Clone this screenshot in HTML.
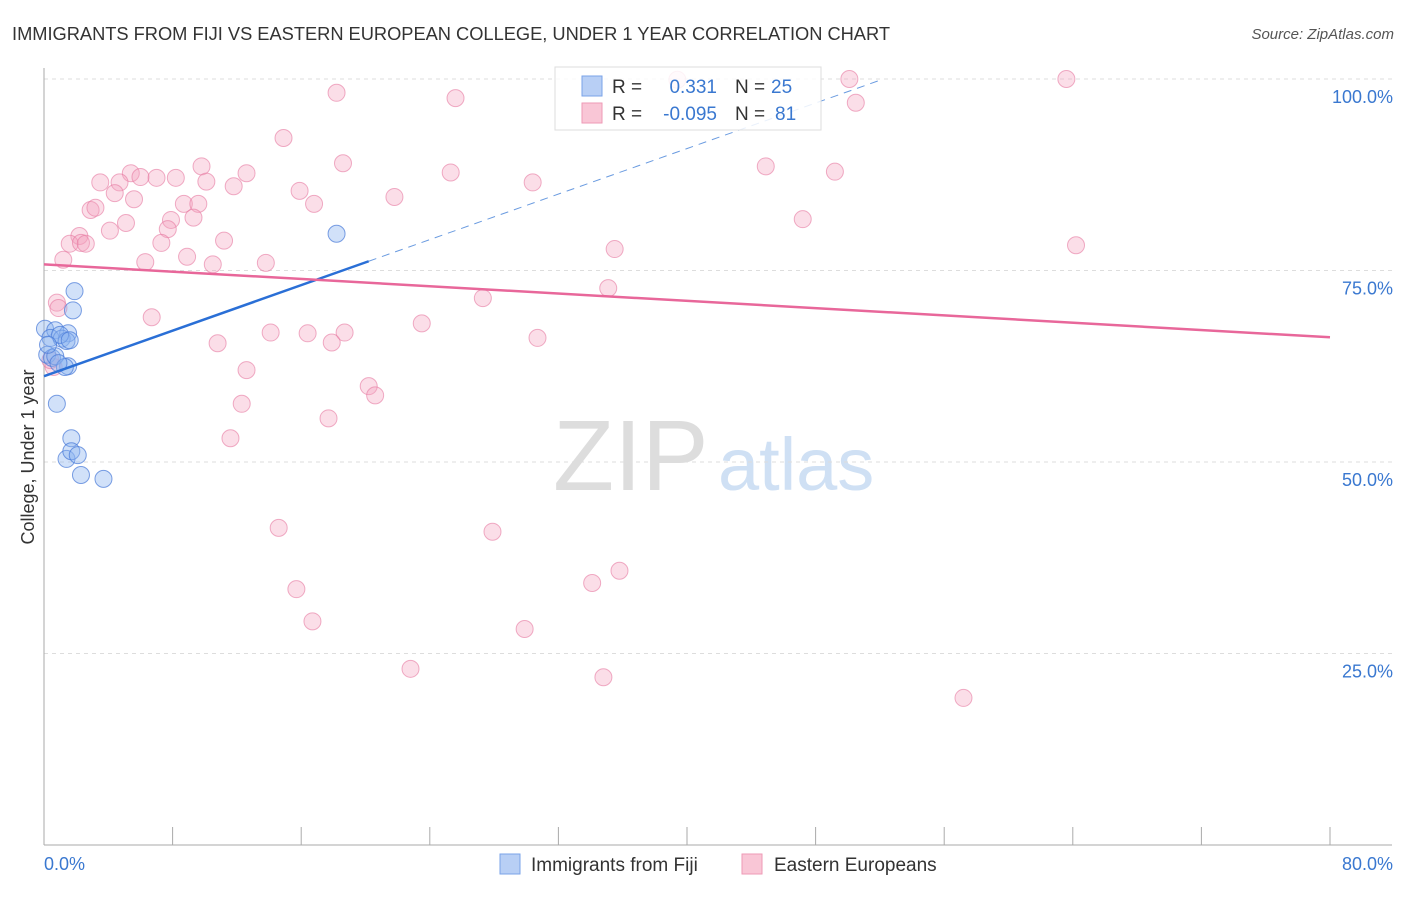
<!DOCTYPE html>
<html><head><meta charset="utf-8"><style>
body{margin:0;background:#fff;font-family:"Liberation Sans",sans-serif}
svg text{font-family:"Liberation Sans",sans-serif}
</style></head><body>
<svg id="c" width="1406" height="892" xmlns="http://www.w3.org/2000/svg">
<text x="12" y="40" font-size="18.3" fill="#333" textLength="878">IMMIGRANTS FROM FIJI VS EASTERN EUROPEAN COLLEGE, UNDER 1 YEAR CORRELATION CHART</text>
<text x="1394" y="39" font-size="15" fill="#555" font-style="italic" text-anchor="end">Source: ZipAtlas.com</text>
<g><text x="553" y="490" font-size="100" fill="#ddd" font-family="Liberation Serif,serif">ZIP</text><text x="718" y="490" font-size="74" fill="#cfe0f4">atlas</text></g>
<g id="grid"></g><g id="axes"></g><g id="marks"></g>
<text transform="translate(34,457) rotate(-90)" font-size="18" fill="#333" text-anchor="middle">College, Under 1 year</text>
<g>
<rect x="555" y="67" width="266" height="63" fill="#fff" fill-opacity="0.85" stroke="#ddd"/>
<rect x="582" y="76" width="20" height="20" fill="#b8cff5" stroke="#7aa3e8"/>
<rect x="582" y="103" width="20" height="20" fill="#f9c6d6" stroke="#ee9ab6"/>
<text x="612" y="93" font-size="19" fill="#333">R =</text><text x="717" y="93" font-size="19" fill="#3a78d0" text-anchor="end">0.331</text>
<text x="735" y="93" font-size="19" fill="#333">N =</text><text x="771" y="93" font-size="19" fill="#3a78d0">25</text>
<text x="612" y="120" font-size="19" fill="#333">R =</text><text x="717" y="120" font-size="19" fill="#3a78d0" text-anchor="end">-0.095</text>
<text x="735" y="120" font-size="19" fill="#333">N =</text><text x="775" y="120" font-size="19" fill="#3a78d0">81</text>
</g>
<g>
<rect x="500" y="854" width="20" height="20" fill="#b8cff5" stroke="#7aa3e8"/>
<text x="531" y="871" font-size="19" fill="#333">Immigrants from Fiji</text>
<rect x="742" y="854" width="20" height="20" fill="#f9c6d6" stroke="#ee9ab6"/>
<text x="774" y="871" font-size="19" fill="#333">Eastern Europeans</text>
</g>
</svg>
<script>
const yTicks=[100,75,50,25];
const yTickLabels=["100.0%","75.0%","50.0%","25.0%"];
const xTickValues=[8,16,24,32,40,48,56,64,72,80];
const fijiX=[0.06,0.7,1.5,0.4,1.1,1.4,1.0,0.2,0.5,0.7,1.5,1.3,1.9,1.8,18.2,0.8,1.7,1.4,1.7,2.1,2.3,3.7,0.25,0.9,1.6];
const fijiY=[67.4,67.2,66.8,66.2,66.1,65.8,66.6,64.0,63.6,63.8,62.5,62.4,72.3,69.8,79.8,57.6,53.1,50.4,51.4,50.9,48.3,47.8,65.3,62.9,65.9];
const eastX=[39.4,50.1,63.6,18.2,25.6,50.5,14.9,18.6,44.9,9.8,25.3,49.2,5.4,12.6,3.5,4.7,7.0,6.0,8.2,10.1,11.8,30.4,4.4,5.6,15.9,16.8,21.8,8.7,9.6,2.9,3.2,47.2,5.1,7.9,9.3,4.1,7.7,2.2,11.2,7.3,1.6,2.3,2.6,64.2,35.5,1.2,6.3,8.9,10.5,13.8,27.3,35.1,0.8,0.9,6.7,23.5,14.1,16.4,18.7,17.9,10.8,30.7,12.6,20.2,20.6,12.3,17.7,11.6,14.6,27.9,15.7,35.8,34.1,16.7,29.9,22.8,34.8,57.2,0.6,0.4];
const eastY=[99.9,100,100,98.2,97.5,96.9,92.3,89.0,88.6,88.6,87.8,87.9,87.7,87.7,86.5,86.5,87.1,87.2,87.1,86.6,86.0,86.5,85.1,84.3,85.4,83.7,84.6,83.7,83.7,82.9,83.2,81.7,81.2,81.6,81.9,80.2,80.4,79.5,78.9,78.6,78.5,78.6,78.5,78.3,77.8,76.4,76.1,76.8,75.8,76.0,71.4,72.7,70.8,70.1,68.9,68.1,66.9,66.8,66.9,65.6,65.5,66.2,62.0,59.9,58.7,57.6,55.7,53.1,41.4,40.9,33.4,35.8,34.2,29.2,28.2,23.0,21.9,19.2,62.4,63.3];
const fijiTrend=[61.2,0.743];
const eastTrend=[75.8,-0.119];
const X=v=>44+v/80*1286, Y=v=>845-v/100*766;
const NS="http://www.w3.org/2000/svg";
function mk(p,t,a){const e=document.createElementNS(NS,t);for(const k in a)e.setAttribute(k,a[k]);p.appendChild(e);return e;}
const grid=document.getElementById('grid'),axes=document.getElementById('axes'),marks=document.getElementById('marks');
yTicks.forEach((v,i)=>{
 const l=mk(grid,'line',{x1:44,x2:1392,y1:Y(v),y2:Y(v),stroke:'#ddd','stroke-dasharray':'4,4'});
 
 
 const t=mk(grid,'text',{x:1393,y:Y(v)+24,'font-size':18,fill:'#3a78d0','text-anchor':'end'});t.textContent=yTickLabels[i];
 
 
});
const ya=mk(axes,'line',{x1:44,x2:44,y1:68,y2:845,stroke:'#aaa'});


const xa=mk(axes,'line',{x1:44,x2:1392,y1:845,y2:845,stroke:'#aaa'});


xTickValues.forEach(v=>{const t=mk(axes,'line',{x1:X(v),x2:X(v),y1:827,y2:845,stroke:'#aaa'});
 
 });
const xl0=mk(axes,'text',{x:44,y:870,'font-size':18,fill:'#3a78d0'});xl0.textContent='0.0%';


const xl1=mk(axes,'text',{x:1393,y:870,'font-size':18,fill:'#3a78d0','text-anchor':'end'});xl1.textContent='80.0%';


eastX.forEach((v,i)=>{const c=mk(marks,'circle',{cx:X(v),cy:Y(eastY[i]),r:8.5,fill:'rgba(244,160,190,0.35)',stroke:'rgba(230,120,160,0.6)','stroke-width':1});
 
 });
fijiX.forEach((v,i)=>{const c=mk(marks,'circle',{cx:X(v),cy:Y(fijiY[i]),r:8.5,fill:'rgba(140,180,240,0.4)',stroke:'rgba(70,120,215,0.7)','stroke-width':1});
 
 });
const f=x=>fijiTrend[0]+fijiTrend[1]*x, e=x=>eastTrend[0]+eastTrend[1]*x;
const t1=mk(marks,'line',{x1:X(0),y1:Y(f(0)),x2:X(20.2),y2:Y(f(20.2)),stroke:'#2a6fd6','stroke-width':2.5});


const t2=mk(marks,'line',{x1:X(20.2),y1:Y(f(20.2)),x2:X(52),y2:Y(f(52)),stroke:'#6a9be0','stroke-width':1,'stroke-dasharray':'8,6'});


const t3=mk(marks,'line',{x1:X(0),y1:Y(e(0)),x2:X(80),y2:Y(e(80)),stroke:'#e8679a','stroke-width':2.5});


</script>
</body></html>
